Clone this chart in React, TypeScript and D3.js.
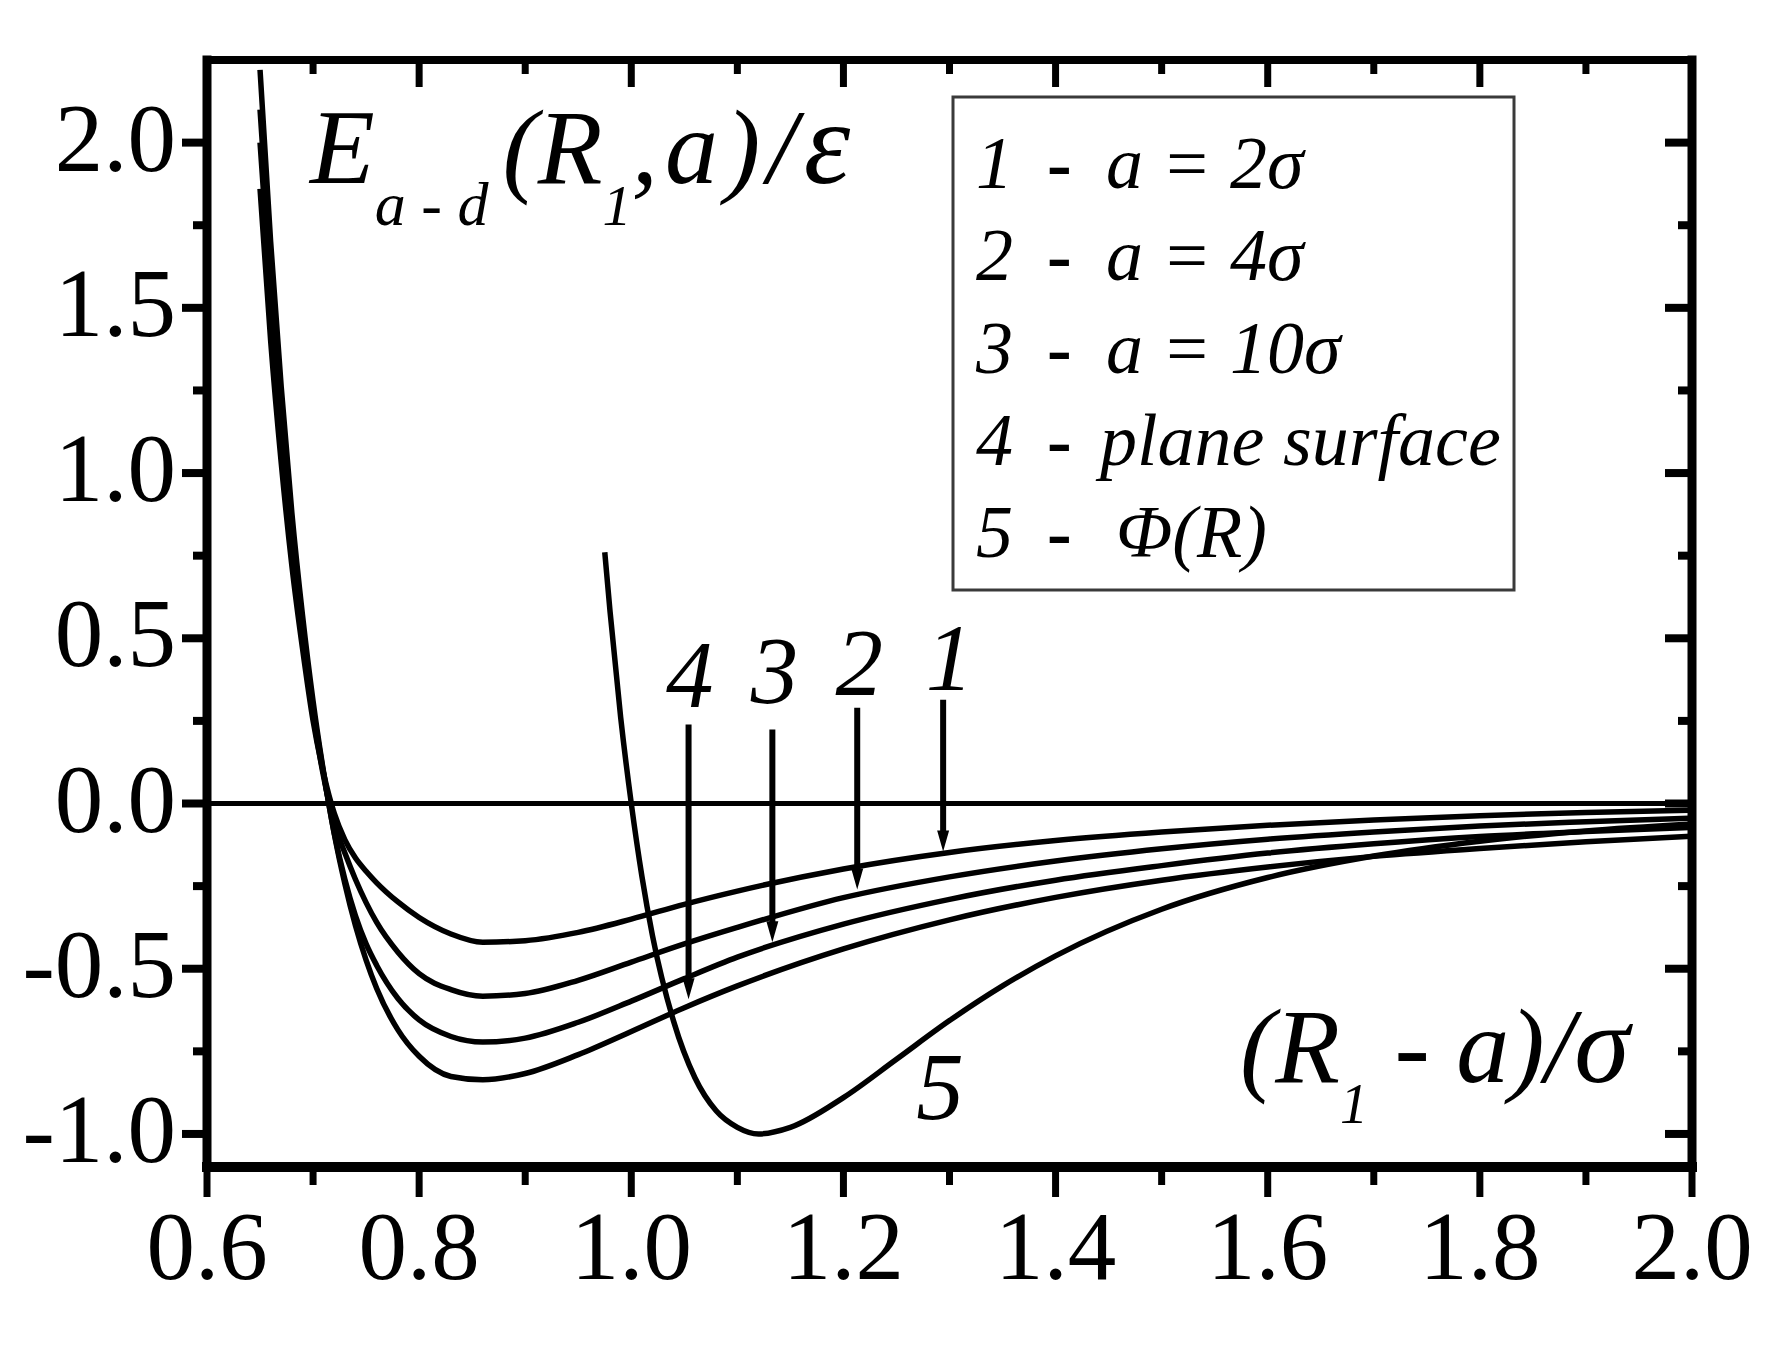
import React from "react";
import * as d3 from "d3";

const X_DOMAIN: [number, number] = [0.6, 2.0];
const Y_DOMAIN: [number, number] = [-1.1, 2.25];

const xMajorTicks = [0.6, 0.8, 1.0, 1.2, 1.4, 1.6, 1.8, 2.0];
const xTickLabels = ["0.6", "0.8", "1.0", "1.2", "1.4", "1.6", "1.8", "2.0"];
const xMinorTicks = [0.7, 0.9, 1.1, 1.3, 1.5, 1.7, 1.9];
const yMajorTicks = [-1.0, -0.5, 0.0, 0.5, 1.0, 1.5, 2.0];
const yTickLabels = ["-1.0", "-0.5", "0.0", "0.5", "1.0", "1.5", "2.0"];
const yMinorTicks = [-0.75, -0.25, 0.25, 0.75, 1.25, 1.75];

// (R1 - a)/sigma grid for curves 1-4
const xGrid = [0.65, 0.66, 0.67, 0.68, 0.69, 0.70, 0.71, 0.72, 0.73, 0.74, 0.75, 0.76, 0.78, 0.80, 0.83, 0.86, 0.90, 0.95, 1.00, 1.05, 1.10, 1.20, 1.30, 1.40, 1.50, 1.60, 1.70, 1.80, 1.90, 2.00];
// 1 - a = 2 sigma
const curve1 = [1.86, 1.40, 1.03, 0.72, 0.47, 0.25, 0.09, -0.03, -0.11, -0.165, -0.205, -0.24, -0.298, -0.345, -0.395, -0.42, -0.415, -0.39, -0.35, -0.305, -0.265, -0.198, -0.148, -0.112, -0.086, -0.066, -0.05, -0.037, -0.027, -0.02];
// 2 - a = 4 sigma
const curve2 = [2.0, 1.54, 1.13, 0.79, 0.515, 0.27, 0.08, -0.06, -0.15, -0.23, -0.30, -0.36, -0.45, -0.515, -0.563, -0.583, -0.575, -0.535, -0.48, -0.425, -0.375, -0.285, -0.222, -0.174, -0.137, -0.108, -0.086, -0.068, -0.055, -0.044];
// 3 - a = 10 sigma
const curve3 = [2.1, 1.62, 1.19, 0.83, 0.545, 0.29, 0.09, -0.09, -0.23, -0.34, -0.425, -0.49, -0.59, -0.655, -0.705, -0.722, -0.71, -0.662, -0.598, -0.53, -0.465, -0.365, -0.29, -0.232, -0.188, -0.15, -0.122, -0.1, -0.085, -0.072];
// 4 - plane surface
const curve4 = [2.22, 1.70, 1.26, 0.88, 0.571, 0.31, 0.093, -0.092, -0.243, -0.37, -0.474, -0.56, -0.685, -0.765, -0.826, -0.836, -0.817, -0.76, -0.69, -0.618, -0.552, -0.44, -0.352, -0.284, -0.232, -0.192, -0.16, -0.136, -0.116, -0.099];
// 5 - Phi(R)
const curve5X = [0.975, 0.98, 0.99, 1.0, 1.01, 1.02, 1.04, 1.06, 1.08, 1.10, 1.12, 1.15, 1.20, 1.25, 1.30, 1.35, 1.40, 1.50, 1.60, 1.70, 1.80, 1.90, 2.00];
const curve5Y = [0.76, 0.58, 0.26, 0.0, -0.22, -0.40, -0.66, -0.83, -0.93, -0.98, -1.0, -0.98, -0.89, -0.774, -0.657, -0.552, -0.461, -0.32, -0.224, -0.159, -0.114, -0.083, -0.062];

// arrow annotations
const arrowLabels = ["1", "2", "3", "4"];
const arrowX = [1.294, 1.213, 1.133, 1.054];
const arrowTop = [0.314, 0.29, 0.224, 0.239];
const arrowTip = [-0.145, -0.26, -0.42, -0.592];
const arrowLabelX = [1.300, 1.215, 1.135, 1.055];
const arrowLabelY = [0.344, 0.329, 0.305, 0.293];
const curve5LabelX = 1.291;
const curve5LabelY = -0.955;

const legendNums = ["1", "2", "3", "4", "5"];
const legendTexts = ["a = 2σ", "a = 4σ", "a = 10σ", "plane surface", "Φ(R)"];

const FONT = "'Liberation Serif', 'Times New Roman', Times, serif";

export default function App() {
  const x = d3.scaleLinear().domain(X_DOMAIN).range([207, 1692]);
  const y = d3.scaleLinear().domain(Y_DOMAIN).range([1167, 60]);
  const line = d3
    .line<[number, number]>()
    .x((d) => x(d[0]))
    .y((d) => y(d[1]))
    .curve(d3.curveMonotoneX);

  const series = [curve1, curve2, curve3, curve4].map((vals) =>
    xGrid.map((xv, i) => [xv, vals[i]] as [number, number])
  );
  const lj = curve5X.map((xv, i) => [xv, curve5Y[i]] as [number, number]);

  const x0 = x(X_DOMAIN[0]);
  const x1 = x(X_DOMAIN[1]);
  const yb = y(Y_DOMAIN[0]);
  const yt = y(Y_DOMAIN[1]);

  const legendX = 953;
  const legendY = 97;
  const legendW = 561;
  const legendH = 493;

  return (
    <svg
      width={1786}
      height={1357}
      style={{ position: "absolute", left: 0, top: 0, background: "#fff" }}
      fontFamily={FONT}
    >
      <rect x={0} y={0} width={1786} height={1357} fill="#fff" />

      {/* zero line */}
      <line x1={x0} x2={x1} y1={y(0)} y2={y(0)} stroke="#000" strokeWidth={5} />

      {/* curves */}
      {series.map((s, i) => (
        <path key={i} d={line(s) || ""} fill="none" stroke="#000" strokeWidth={5.5} strokeLinejoin="round" />
      ))}
      <path d={line(lj) || ""} fill="none" stroke="#000" strokeWidth={5.5} strokeLinejoin="round" />

      {/* arrows */}
      {arrowX.map((ax, i) => {
        const px = x(ax);
        const tip = y(arrowTip[i]);
        return (
          <g key={i}>
            <line x1={px} x2={px} y1={y(arrowTop[i])} y2={tip - 14} stroke="#000" strokeWidth={6} />
            <polygon points={`${px - 6},${tip - 21} ${px + 6},${tip - 21} ${px},${tip}`} fill="#000" />
            <text
              x={x(arrowLabelX[i])}
              y={y(arrowLabelY[i])}
              fontSize={95}
              fontStyle="italic"
              textAnchor="middle"
            >
              {arrowLabels[i]}
            </text>
          </g>
        );
      })}
      <text x={x(curve5LabelX)} y={y(curve5LabelY)} fontSize={95} fontStyle="italic" textAnchor="middle">
        5
      </text>

      {/* axes frame */}
      <line x1={x0} x2={x1} y1={yb} y2={yb} stroke="#000" strokeWidth={10} strokeLinecap="square" />
      <line x1={x0} x2={x1} y1={yt} y2={yt} stroke="#000" strokeWidth={8} strokeLinecap="square" />
      <line x1={x0} x2={x0} y1={yt} y2={yb} stroke="#000" strokeWidth={9} strokeLinecap="square" />
      <line x1={x1} x2={x1} y1={yt} y2={yb} stroke="#000" strokeWidth={9} strokeLinecap="square" />

      {/* bottom ticks (outward) and top ticks (inward) */}
      {xMajorTicks.map((t, i) => (
        <g key={"xm" + i}>
          <line x1={x(t)} x2={x(t)} y1={yb} y2={yb + 30} stroke="#000" strokeWidth={7} />
          <line x1={x(t)} x2={x(t)} y1={yt} y2={yt + 27} stroke="#000" strokeWidth={7} />
          <text x={x(t)} y={1279} fontSize={97} textAnchor="middle">
            {xTickLabels[i]}
          </text>
        </g>
      ))}
      {xMinorTicks.map((t, i) => (
        <g key={"xn" + i}>
          <line x1={x(t)} x2={x(t)} y1={yb} y2={yb + 18} stroke="#000" strokeWidth={7} />
          <line x1={x(t)} x2={x(t)} y1={yt} y2={yt + 14} stroke="#000" strokeWidth={7} />
        </g>
      ))}

      {/* left ticks (outward) and right ticks (inward) */}
      {yMajorTicks.map((t, i) => (
        <g key={"ym" + i}>
          <line x1={x0} x2={x0 - 25} y1={y(t)} y2={y(t)} stroke="#000" strokeWidth={8} />
          <line x1={x1} x2={x1 - 27} y1={y(t)} y2={y(t)} stroke="#000" strokeWidth={8} />
          <text x={176} y={y(t) + 28} fontSize={97} textAnchor="end">
            {yTickLabels[i]}
          </text>
        </g>
      ))}
      {yMinorTicks.map((t, i) => (
        <g key={"yn" + i}>
          <line x1={x0} x2={x0 - 14} y1={y(t)} y2={y(t)} stroke="#000" strokeWidth={8} />
          <line x1={x1} x2={x1 - 14} y1={y(t)} y2={y(t)} stroke="#000" strokeWidth={8} />
        </g>
      ))}

      {/* y title */}
      <text x={310} y={183} fontSize={106} fontStyle="italic">
        E
        <tspan fontSize={62} dy={42}>
          a - d
        </tspan>
        <tspan dx={14} dy={-42}>
          (R
        </tspan>
        <tspan fontSize={58} dy={42}>
          1
        </tspan>
        <tspan dy={-42} letterSpacing={7}>
          ,a)/
        </tspan>
        <tspan fontSize={118}>ε</tspan>
      </text>

      {/* x title */}
      <text x={1240} y={1082} fontSize={106} fontStyle="italic" xmlSpace="preserve">
        (R
        <tspan fontSize={56} dy={41}>
          1
        </tspan>
        <tspan dy={-41}>{" - a)/"}</tspan>
        <tspan fontSize={112}>σ</tspan>
      </text>

      {/* legend */}
      <rect
        x={legendX}
        y={legendY}
        width={legendW}
        height={legendH}
        fill="#fff"
        stroke="#3a3a3a"
        strokeWidth={3}
      />
      {legendNums.map((n, i) => {
        const by = legendY + 91 + i * 92.3;
        const tx = i === 3 ? 1100 : i === 4 ? 1116 : 1106;
        return (
          <g key={"lg" + i}>
            <text x={976} y={by} fontSize={74} fontStyle="italic">
              {n}
            </text>
            <text x={1047} y={by} fontSize={74} fontWeight="bold">
              -
            </text>
            <text x={tx} y={by} fontSize={74} fontStyle="italic" xmlSpace="preserve">
              {legendTexts[i]}
            </text>
          </g>
        );
      })}
    </svg>
  );
}
